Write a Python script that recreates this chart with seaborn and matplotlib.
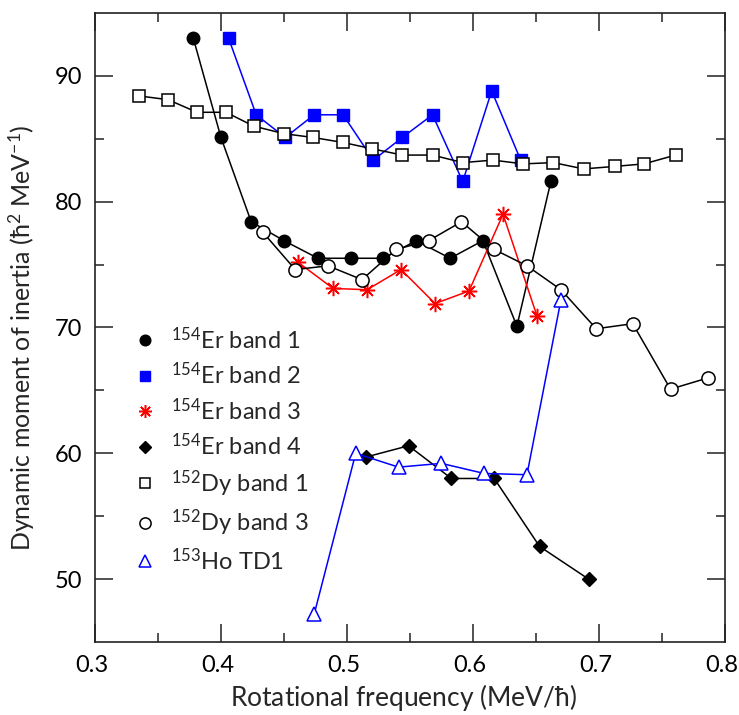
import matplotlib
matplotlib.use("Agg")
import matplotlib.pyplot as plt
import matplotlib.transforms as mtransforms
from matplotlib.lines import Line2D
import seaborn as sns
import pandas as pd

# Rotational frequency (MeV/hbar) and dynamic moment of inertia (hbar^2/MeV)
er1_w = [0.378, 0.400, 0.424, 0.450, 0.477, 0.503, 0.529, 0.555, 0.582, 0.608, 0.635, 0.662]
er1_j = [93.0, 85.1, 78.4, 76.9, 75.5, 75.5, 75.5, 76.9, 75.5, 76.9, 70.1, 81.6]

er2_w = [0.406, 0.428, 0.451, 0.474, 0.497, 0.521, 0.544, 0.568, 0.592, 0.615, 0.638]
er2_j = [93.0, 86.9, 85.1, 86.9, 86.9, 83.3, 85.1, 86.9, 81.6, 88.8, 83.3]

er3_w = [0.461, 0.489, 0.516, 0.543, 0.570, 0.597, 0.624, 0.651]
er3_j = [75.2, 73.1, 73.0, 74.6, 71.9, 72.9, 79.0, 70.9]

er4_w = [0.515, 0.549, 0.583, 0.617, 0.653, 0.692]
er4_j = [59.7, 60.6, 58.0, 58.0, 52.6, 50.0]

dy1_w = [0.335, 0.358, 0.381, 0.404, 0.426, 0.450, 0.473, 0.497, 0.520, 0.544,
         0.568, 0.592, 0.616, 0.640, 0.664, 0.688, 0.713, 0.736, 0.761]
dy1_j = [88.4, 88.1, 87.1, 87.1, 86.0, 85.4, 85.1, 84.7, 84.2, 83.7,
         83.7, 83.1, 83.3, 83.0, 83.1, 82.6, 82.8, 83.0, 83.7]

dy3_w = [0.433, 0.459, 0.485, 0.512, 0.539, 0.565, 0.591, 0.617, 0.643, 0.670,
         0.698, 0.727, 0.757, 0.787]
dy3_j = [77.6, 74.6, 74.9, 73.8, 76.2, 76.9, 78.4, 76.2, 74.9, 73.0,
         69.9, 70.3, 65.1, 66.0]

ho_w = [0.474, 0.507, 0.541, 0.575, 0.609, 0.643, 0.670]
ho_j = [47.2, 60.0, 58.9, 59.2, 58.4, 58.3, 72.2]

labels = [r"$^{154}$Er band 1", r"$^{154}$Er band 2", r"$^{154}$Er band 3",
          r"$^{154}$Er band 4", r"$^{152}$Dy band 1", r"$^{152}$Dy band 3",
          r"$^{153}$Ho TD1"]

x_ticks = [0.3, 0.4, 0.5, 0.6, 0.7, 0.8]
x_ticklabels = ["0.3", "0.4", "0.5", "0.6", "0.7", "0.8"]
y_ticks = [50, 60, 70, 80, 90]

sns.set_theme(style="ticks")
FONT = "Lato"
plt.rcParams["font.family"] = [FONT, "DejaVu Sans"]
plt.rcParams["mathtext.fontset"] = "custom"
plt.rcParams["mathtext.rm"] = FONT
plt.rcParams["mathtext.it"] = FONT + ":italic"
plt.rcParams["mathtext.default"] = "regular"

fig = plt.figure(figsize=(7.39, 7.15), dpi=100)
ax = fig.add_axes([0.1286, 0.102, 0.852, 0.880])

BLUE = "#0000ff"
RED = "#ff0000"
styles = [
    dict(color="black", marker="o", ms=9, mfc="black", mec="black"),
    dict(color=BLUE, marker="s", ms=8, mfc=BLUE, mec=BLUE),
    dict(color=RED, marker=(8, 2, 0), ms=11, mfc=RED, mec=RED, mew=1.1),
    dict(color="black", marker="D", ms=7, mfc="black", mec="black"),
    dict(color="black", marker="s", ms=8, mfc="white", mec="black", mew=1.1),
    dict(color="black", marker="o", ms=9.5, mfc="white", mec="black", mew=1.1),
    dict(color=BLUE, marker="^", ms=10, mfc="white", mec=BLUE, mew=1.1),
]
series = [(er1_w, er1_j), (er2_w, er2_j), (er3_w, er3_j), (er4_w, er4_j),
          (dy1_w, dy1_j), (dy3_w, dy3_j), (ho_w, ho_j)]

for (w, j), st in zip(series, styles):
    df = pd.DataFrame({"w": w, "j": j})
    sns.lineplot(data=df, x="w", y="j", ax=ax, sort=False, estimator=None,
                 color=st["color"], marker=st["marker"], markersize=st["ms"],
                 markerfacecolor=st["mfc"], markeredgecolor=st["mec"],
                 markeredgewidth=st.get("mew", 1.0), linewidth=1.1, legend=False)

ax.set_xlim(0.3, 0.8)
ax.set_ylim(45, 95)
ax.set_xticks(x_ticks)
ax.set_xticks([0.35, 0.45, 0.55, 0.65, 0.75], minor=True)
ax.set_yticks(y_ticks)
ax.set_yticks([55, 65, 75, 85], minor=True)
ax.set_xticklabels(x_ticklabels)
ax.tick_params(which="both", direction="in", top=True, right=True,
               width=1.1, colors="#222222", labelsize=17, labelcolor="black")
ax.tick_params(which="major", length=13, pad=9)
ax.tick_params(which="minor", length=6.5)
for sp in ax.spines.values():
    sp.set_linewidth(1.2)
    sp.set_color("#222222")

# nudge the x tick labels slightly to the left
shift = mtransforms.ScaledTranslation(-3 / 100, 0, fig.dpi_scale_trans)
for lab in ax.get_xticklabels():
    lab.set_transform(lab.get_transform() + shift)

ax.set_xlabel(r"Rotational frequency (MeV/$\hbar$)", fontsize=19)
ax.set_ylabel(r"Dynamic moment of inertia ($\hbar^2$ MeV$^{-1}$)", fontsize=18)
ax.xaxis.set_label_coords(0.49, -0.063, transform=ax.transAxes)
ax.yaxis.set_label_coords(-0.092, 0.483, transform=ax.transAxes)

handles = []
for st, lab in zip(styles, labels):
    handles.append(Line2D([], [], linestyle="none", marker=st["marker"],
                          markersize=st["ms"] * 0.85, markerfacecolor=st["mfc"],
                          markeredgecolor=st["mec"], markeredgewidth=st.get("mew", 1.0),
                          label=lab))
ax.legend(handles=handles, loc="upper left", bbox_to_anchor=(0.05, 0.517),
          frameon=False, fontsize=17, handlelength=0.8, handletextpad=0.7,
          labelspacing=0.38, borderaxespad=0)

fig.savefig("out.png", dpi=100)
